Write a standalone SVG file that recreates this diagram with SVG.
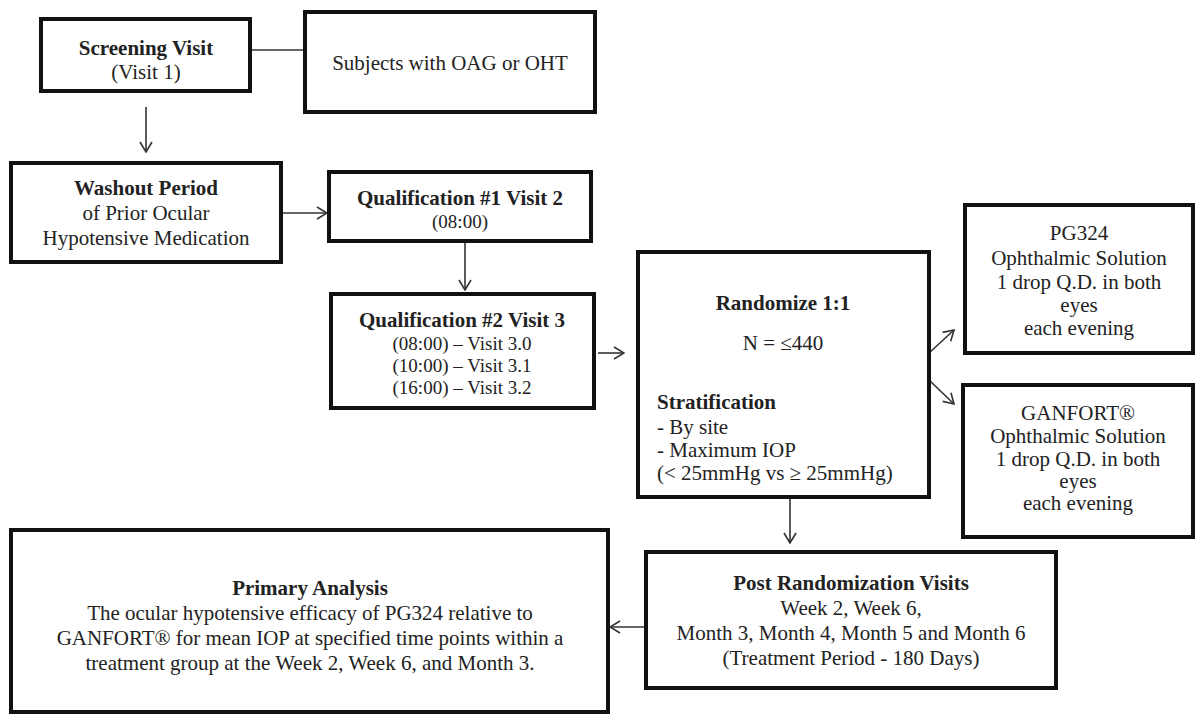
<svg xmlns="http://www.w3.org/2000/svg" width="1201" height="715" viewBox="0 0 1201 715">
<style>
.box{fill:#fff;stroke:#111;stroke-width:4}
.t{font-family:"Liberation Serif","Times New Roman",serif;font-size:21px;fill:#222;text-anchor:middle}
.s{font-size:19px}
.b{font-weight:bold}
.l{text-anchor:start}
.c{stroke:#333;stroke-width:1.6;fill:none}
</style>
<defs>
<marker id="ah" viewBox="0 0 12 14" refX="11" refY="7" markerWidth="12" markerHeight="14" markerUnits="userSpaceOnUse" orient="auto">
<path d="M1,1 L11,7 L1,13" fill="none" stroke="#333" stroke-width="1.6"/>
</marker>
</defs>
<rect width="1201" height="715" fill="#fff"/>
<g id="connectors">
<line class="c" x1="250" y1="50" x2="305" y2="50"/>
<line class="c" x1="146" y1="107" x2="146" y2="152" marker-end="url(#ah)"/>
<line class="c" x1="281" y1="213" x2="327" y2="213" marker-end="url(#ah)"/>
<line class="c" x1="465" y1="241" x2="465" y2="290" marker-end="url(#ah)"/>
<line class="c" x1="598" y1="353" x2="624" y2="353" marker-end="url(#ah)"/>
<line class="c" x1="929" y1="353" x2="954" y2="330" marker-end="url(#ah)"/>
<line class="c" x1="929" y1="380" x2="954" y2="404" marker-end="url(#ah)"/>
<line class="c" x1="790" y1="497" x2="790" y2="543" marker-end="url(#ah)"/>
<line class="c" x1="646" y1="627" x2="610" y2="627" marker-end="url(#ah)"/>
</g>
<g id="screening">
<rect class="box" x="41" y="19" width="209" height="72"/>
<text class="t b" x="146" y="55">Screening Visit</text>
<text class="t" x="146" y="79">(Visit 1)</text>
</g>
<g id="subjects">
<rect class="box" x="305" y="12" width="290" height="100"/>
<text class="t" x="450" y="70">Subjects with OAG or OHT</text>
</g>
<g id="washout">
<rect class="box" x="11" y="163" width="270" height="99"/>
<text class="t b" x="146" y="195">Washout Period</text>
<text class="t" x="146" y="220">of Prior Ocular</text>
<text class="t" x="146" y="245">Hypotensive Medication</text>
</g>
<g id="qual1">
<rect class="box" x="329" y="172" width="262" height="69"/>
<text class="t b" x="460" y="205">Qualification #1 Visit 2</text>
<text class="t s" x="460" y="228">(08:00)</text>
</g>
<g id="qual2">
<rect class="box" x="331" y="294" width="263" height="114"/>
<text class="t b" x="462" y="327">Qualification #2 Visit 3</text>
<text class="t s" x="462" y="350">(08:00) – Visit 3.0</text>
<text class="t s" x="462" y="372">(10:00) – Visit 3.1</text>
<text class="t s" x="462" y="394">(16:00) – Visit 3.2</text>
</g>
<g id="randomize">
<rect class="box" x="638" y="252" width="291" height="245"/>
<text class="t b" x="783" y="310">Randomize 1:1</text>
<text class="t" x="783" y="350">N = ≤440</text>
<text class="t b l" x="657" y="409">Stratification</text>
<text class="t l" x="657" y="434">- By site</text>
<text class="t l" x="657" y="457">- Maximum IOP</text>
<text class="t l" x="657" y="480">(&lt; 25mmHg vs ≥ 25mmHg)</text>
</g>
<g id="pg324">
<rect class="box" x="965" y="205" width="228" height="148"/>
<text class="t" x="1079" y="240">PG324</text>
<text class="t" x="1079" y="265">Ophthalmic Solution</text>
<text class="t" x="1079" y="289">1 drop Q.D. in both</text>
<text class="t" x="1079" y="312">eyes</text>
<text class="t" x="1079" y="335">each evening</text>
</g>
<g id="ganfort">
<rect class="box" x="963" y="385" width="230" height="152"/>
<text class="t" x="1078" y="420">GANFORT®</text>
<text class="t" x="1078" y="443">Ophthalmic Solution</text>
<text class="t" x="1078" y="466">1 drop Q.D. in both</text>
<text class="t" x="1078" y="488">eyes</text>
<text class="t" x="1078" y="510">each evening</text>
</g>
<g id="post">
<rect class="box" x="646" y="552" width="410" height="136"/>
<text class="t b" x="851" y="590">Post Randomization Visits</text>
<text class="t" x="851" y="615">Week 2, Week 6,</text>
<text class="t" x="851" y="640">Month 3, Month 4, Month 5 and Month 6</text>
<text class="t" x="851" y="665">(Treatment Period - 180 Days)</text>
</g>
<g id="primary">
<rect class="box" x="11" y="530" width="597" height="182"/>
<text class="t b" x="310" y="595">Primary Analysis</text>
<text class="t" x="310" y="620">The ocular hypotensive efficacy of PG324 relative to</text>
<text class="t" x="310" y="645">GANFORT® for mean IOP at specified time points within a</text>
<text class="t" x="310" y="670">treatment group at the Week 2, Week 6, and Month 3.</text>
</g>
</svg>
